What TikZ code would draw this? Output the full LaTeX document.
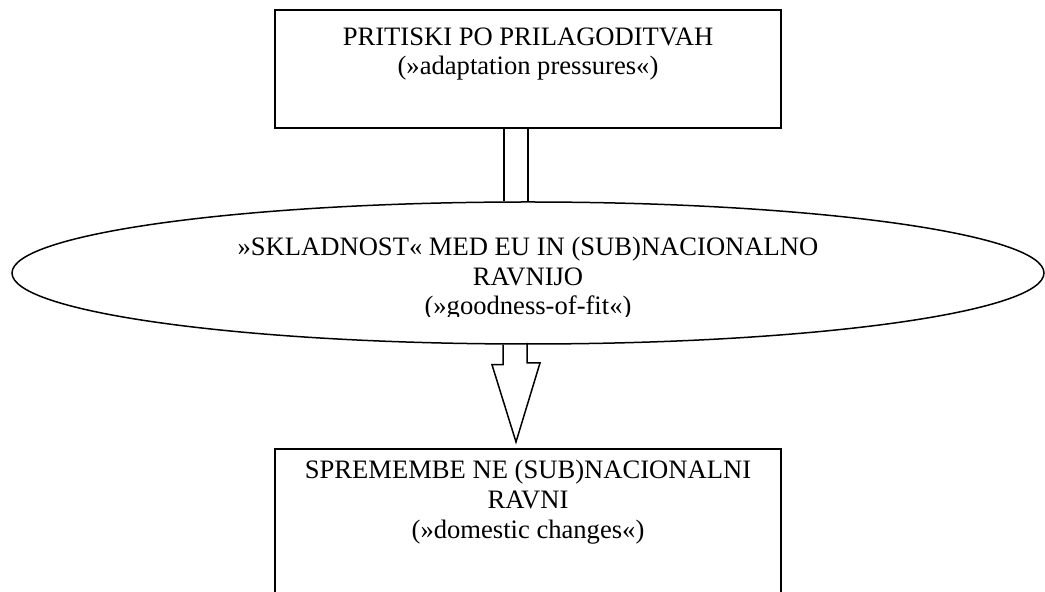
\documentclass[tikz,border=0pt]{standalone}
\usepackage{fontspec}
\setmainfont{Liberation Serif}
\usetikzlibrary{shapes.geometric,positioning,calc}

\tikzset{
    boxshape/.style={draw, line width=1pt, minimum width=253pt, inner sep=0pt},
    boxtext/.style={align=center, inner sep=0pt, anchor=north, font=\fontsize{13.3}{14.9}\selectfont},
    thinline/.style={line width=0.75pt},
}

\begin{document}
\begin{tikzpicture}[x=0.5pt, y=-0.5pt]
        \useasboundingbox (0, 0) rectangle (1045, 592);
        \clip (0, 0) rectangle (1045, 592);

        % boxes and ellipse
        \node [boxshape, minimum height=59pt] (pressures) at (528, 69) {};
        \node [boxtext] (pressurestext) at (528, 27) {PRITISKI PO PRILAGODITVAH\\(»adaptation pressures«)};

        \node [draw, ellipse, thinline, minimum width=516pt, minimum height=71pt, inner sep=0pt] (fit) at (528, 273) {};
        \begin{scope}
            \clip (0, 202) rectangle (1045, 317);
            \node [boxtext] (fittext) at (528, 236.5) {»SKLADNOST« MED EU IN (SUB)NACIONALNO\\RAVNIJO\\(»goodness-of-fit«)};
        \end{scope}

        \node [boxshape, minimum height=95.5pt] (changes) at (528, 544.5) {};
        \node [boxtext] (changestext) at (528, 460) {SPREMEMBE NE (SUB)NACIONALNI\\RAVNI\\(»domestic changes«)};

        % double shaft
        \draw [thinline] ($(pressures.south)+(-24, 0)$) -- ($(fit.north)+(-24, 0)$);
        \draw [thinline] ($(pressures.south)+(0, 0)$) -- ($(fit.north)+(0, 0)$);

        % block arrow
        \draw [thinline, line join=miter] ($(fit.south)+(-25, 0)$) -- ++(0, 20) -- ++(-11, 0)
            -- ($(changes.north)+(-12, -6)$) coordinate (tip)
            -- ++(24, -79) -- ++(-13, 0) -- ++(0, -20);
    \end{tikzpicture}
\end{document}
